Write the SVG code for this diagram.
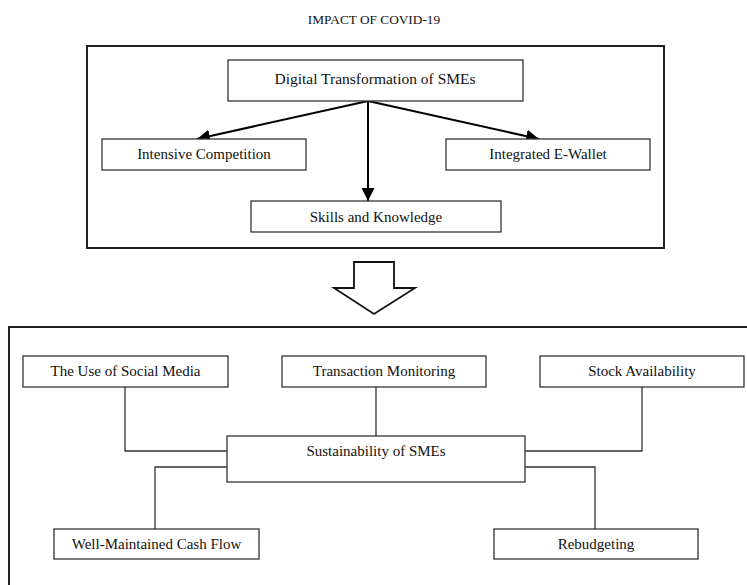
<svg xmlns="http://www.w3.org/2000/svg" width="747" height="585" viewBox="0 0 747 585">
<style>
text{font-family:"Liberation Serif","Times New Roman",serif;fill:#111;text-anchor:middle}
.t{font-size:15px}
.d{font-size:15.5px}
.s{font-size:15px}
.title{font-size:13.3px}
.frame{fill:none;stroke:#222;stroke-width:2}
.box{fill:#fff;stroke:#333;stroke-width:1.3}
.arr{fill:none;stroke:#000;stroke-width:2;marker-end:url(#ah)}
.con{fill:none;stroke:#333;stroke-width:1.3}
</style>
<defs>
<marker id="ah" viewBox="0 0 10 10" refX="10" refY="5" markerWidth="6.5" markerHeight="6.5" markerUnits="strokeWidth" orient="auto">
<path d="M0,0 L10,5 L0,10 z" fill="#000"/>
</marker>
</defs>
<rect width="747" height="585" fill="#fff"/>
<text class="title" x="374" y="24">IMPACT OF COVID-19</text>
<rect class="frame" x="87" y="46" width="577" height="202"/>
<rect class="frame" x="9" y="327" width="745" height="270"/>
<path d="M354,262 L394,262 L394,288 L415,288 L374,314 L334,288 L354,288 Z" fill="#fff" stroke="#111" stroke-width="1.8"/>
<g id="connectors">
<path class="arr" d="M368,101 L197,139"/>
<path class="arr" d="M368,101 L368,201"/>
<path class="arr" d="M368,101 L539,139"/>
<path class="con" d="M125,387 V451 H227"/>
<path class="con" d="M376,387 V436"/>
<path class="con" d="M642,387 V451 H525"/>
<path class="con" d="M227,467 H155 V529"/>
<path class="con" d="M525,467 H595 V529"/>
</g>
<g id="digital"><rect class="box" x="228" y="60" width="295" height="41"/><text class="d" x="375" y="84">Digital Transformation of SMEs</text></g>
<g id="intensive"><rect class="box" x="102" y="139" width="204" height="31"/><text class="t" x="204" y="159">Intensive Competition</text></g>
<g id="ewallet"><rect class="box" x="446" y="139" width="204" height="31"/><text class="t" x="548" y="159">Integrated E-Wallet</text></g>
<g id="skills"><rect class="box" x="251" y="201" width="250" height="31"/><text class="t" x="376" y="222">Skills and Knowledge</text></g>
<g id="social"><rect class="box" x="23" y="356" width="205" height="31"/><text class="s" x="125.5" y="376">The Use of Social Media</text></g>
<g id="transaction"><rect class="box" x="282" y="356" width="204" height="31"/><text class="s" x="384" y="376">Transaction Monitoring</text></g>
<g id="stock"><rect class="box" x="540" y="356" width="204" height="31"/><text class="s" x="642" y="376">Stock Availability</text></g>
<g id="sustainability"><rect class="box" x="227" y="436" width="298" height="46"/><text class="s" x="376" y="456">Sustainability of SMEs</text></g>
<g id="cashflow"><rect class="box" x="54" y="529" width="205" height="30"/><text class="s" x="156.5" y="549">Well-Maintained Cash Flow</text></g>
<g id="rebudgeting"><rect class="box" x="494" y="529" width="204" height="30"/><text class="s" x="596" y="549">Rebudgeting</text></g>
</svg>
